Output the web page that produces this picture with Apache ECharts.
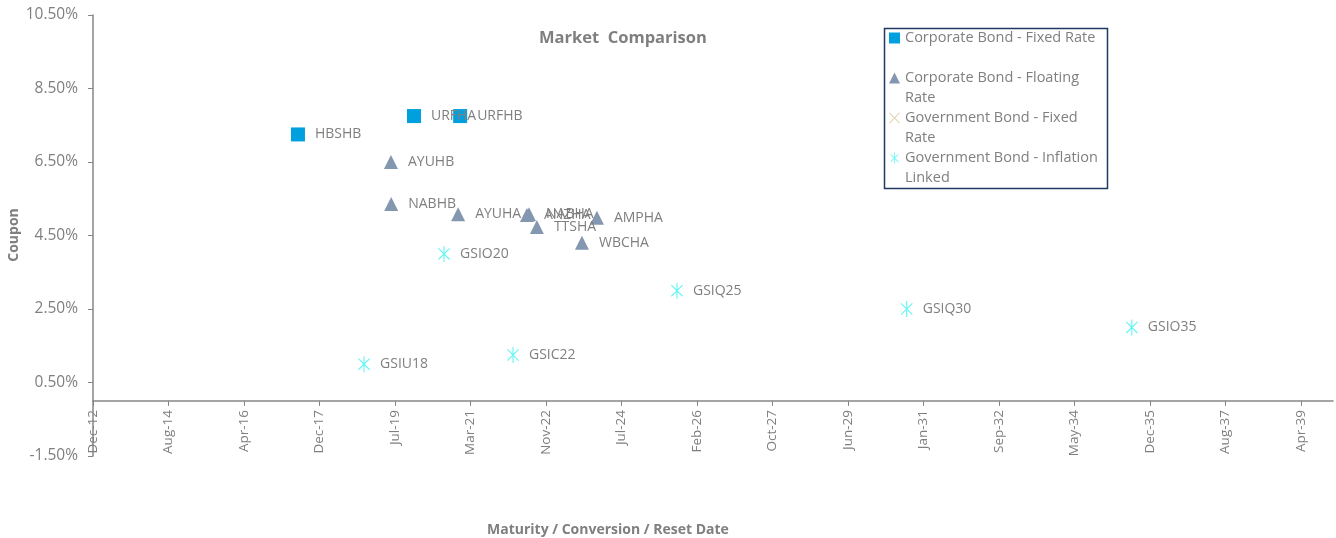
<!DOCTYPE html>
<html lang="en">
<head>
    <meta charset="UTF-8">
    <title>Market Comparison</title>
    <script src="https://cdn.jsdelivr.net/npm/echarts@6/dist/echarts.min.js"></script>
    <style type="text/css">
        html, body { margin: 0; padding: 0; background: #fff; }
        #main { width: 1336px; height: 538px; }
    </style>
</head>
<body>
<div id="main"></div>
<script>
    // corporate bond - fixed rate
    var fixedNames = ['HBSHB', 'URFHA', 'URFHB'];
    var fixedDates = ['2017-06-17', '2019-12-26', '2020-12-27'];
    var fixedCoupons = [7.25, 7.75, 7.75];

    // corporate bond - floating rate
    var floatNames = ['AYUHB', 'NABHB', 'AYUHA', 'ANZHA', 'NABHA', 'TTSHA', 'WBCHA', 'AMPHA'];
    var floatDates = ['2019-06-26', '2019-06-28', '2020-12-11', '2022-06-11', '2022-06-27', '2022-08-29', '2023-08-22', '2023-12-19'];
    var floatCoupons = [6.5, 5.36, 5.08, 5.06, 5.08, 4.73, 4.3, 4.98];

    // government bond - fixed rate (no points shown)
    var govFixedNames = [];
    var govFixedDates = [];
    var govFixedCoupons = [];

    // government bond - inflation linked
    var linkedNames = ['GSIU18', 'GSIO20', 'GSIC22', 'GSIQ25', 'GSIQ30', 'GSIO35'];
    var linkedDates = ['2018-11-24', '2020-08-21', '2022-02-20', '2025-09-15', '2030-09-15', '2035-08-09'];
    var linkedCoupons = [1.0, 4.0, 1.25, 3.0, 2.5, 2.0];

    var seriesNames = ['Corporate Bond - Fixed Rate', 'Corporate Bond - Floating Rate',
        'Government Bond - Fixed Rate', 'Government Bond - Inflation Linked'];
    // leading blank line keeps the icon level with the first text line
    var legendText = {
        'Corporate Bond - Fixed Rate': ' \nCorporate Bond - Fixed Rate\n ',
        'Corporate Bond - Floating Rate': ' \nCorporate Bond - Floating\nRate',
        'Government Bond - Fixed Rate': ' \nGovernment Bond - Fixed\nRate',
        'Government Bond - Inflation Linked': ' \nGovernment Bond - Inflation\nLinked'
    };

    var xStart = '2012-12-31';
    var xStepDays = 600;
    var xTickLabels = ['Dec-12', 'Aug-14', 'Apr-16', 'Dec-17', 'Jul-19', 'Mar-21', 'Nov-22', 'Jul-24', 'Feb-26',
        'Oct-27', 'Jun-29', 'Jan-31', 'Sep-32', 'May-34', 'Dec-35', 'Aug-37', 'Apr-39'];
    var yTicks = [-1.5, 0.5, 2.5, 4.5, 6.5, 8.5, 10.5];

    function toDay(s) {
        return Date.parse(s) / 86400000;
    }

    function points(names, dates, coupons) {
        return names.map(function (n, i) {
            return {name: n, value: [toDay(dates[i]), coupons[i]]};
        });
    }

    var xMin = toDay(xStart);
    var xMax = xMin + 9855;
    var xTickValues = xTickLabels.map(function (l, i) { return xMin + i * xStepDays; });

    var grey = '#7f7f7f';
    var font = '"Open Sans", "Noto Sans", sans-serif';

    var starPath = 'path://M9.3,0L10.7,0L10.7,20L9.3,20Z' +
        'M3.5,2.5L17.5,16.5L16.5,17.5L2.5,3.5Z' +
        'M16.5,2.5L17.5,3.5L3.5,17.5L2.5,16.5Z';
    var crossPath = 'path://M2.5,3.5L3.5,2.5L17.5,16.5L16.5,17.5Z' +
        'M16.5,2.5L17.5,3.5L3.5,17.5L2.5,16.5Z';

    var label = {
        show: true,
        position: 'right',
        distance: 10,
        formatter: '{b}',
        color: grey,
        fontSize: 14,
        fontFamily: font
    };

    var myChart = echarts.init(document.getElementById('main'));
    var option = {
        backgroundColor: '#fff',
        animation: false,
        textStyle: {fontFamily: font},
        grid: {left: 93, right: 3, top: 15, bottom: 82, outerBoundsMode: 'none'},
        graphic: [
            {type: 'text', left: 539, top: 30,
                style: {text: 'Market  Comparison', fill: grey, font: 'bold 16.5px ' + font}},
            {type: 'text', left: 487, top: 523,
                style: {text: 'Maturity / Conversion / Reset Date', fill: grey, font: 'bold 14px ' + font}},
            {type: 'text', x: 14, y: 235, rotation: Math.PI / 2,
                style: {text: 'Coupon', fill: grey, font: 'bold 14px ' + font, align: 'center', verticalAlign: 'middle'}},
            // legend frame
            {type: 'rect', left: 882, top: 26, z: 10,
                shape: {width: 223, height: 160},
                style: {fill: 'none', stroke: '#1f3864', lineWidth: 1.5}}
        ],
        legend: {
            orient: 'vertical',
            left: 889,
            top: 8,
            itemGap: -20,
            itemWidth: 11,
            itemHeight: 11,
            padding: 0,
            data: seriesNames,
            formatter: function (name) { return legendText[name]; },
            textStyle: {color: grey, fontSize: 14.5, lineHeight: 20, fontFamily: font}
        },
        xAxis: {
            type: 'value',
            min: xMin,
            max: xMax,
            splitLine: {show: false},
            axisLine: {onZero: true, lineStyle: {color: '#868686', width: 1.5}},
            axisTick: {show: true, length: 5, customValues: xTickValues, lineStyle: {color: '#868686'}},
            axisLabel: {
                customValues: xTickValues,
                rotate: 90,
                margin: -46,
                color: grey,
                fontSize: 13.5,
                fontFamily: font,
                formatter: function (v) {
                    return xTickLabels[Math.round((v - xMin) / xStepDays)];
                }
            }
        },
        yAxis: {
            type: 'value',
            min: -1.5,
            max: 10.5,
            splitLine: {show: false},
            axisLine: {show: true, lineStyle: {color: '#868686', width: 1.5}},
            axisTick: {show: true, length: 5, customValues: yTicks, lineStyle: {color: '#868686'}},
            axisLabel: {
                customValues: yTicks,
                margin: 15,
                color: grey,
                fontSize: 15.5,
                fontFamily: font,
                formatter: function (v) { return v.toFixed(2) + '%'; }
            }
        },
        series: [
            {
                name: seriesNames[0],
                type: 'scatter',
                symbol: 'rect',
                symbolSize: 14,
                itemStyle: {color: '#00a0df', opacity: 1},
                label: label,
                data: points(fixedNames, fixedDates, fixedCoupons)
            },
            {
                name: seriesNames[1],
                type: 'scatter',
                symbol: 'triangle',
                symbolSize: 14,
                itemStyle: {color: '#8497b0', opacity: 1},
                label: label,
                data: points(floatNames, floatDates, floatCoupons)
            },
            {
                name: seriesNames[2],
                type: 'scatter',
                symbol: crossPath,
                symbolSize: 13,
                itemStyle: {color: '#e3d5b3', opacity: 1},
                label: label,
                data: points(govFixedNames, govFixedDates, govFixedCoupons)
            },
            {
                name: seriesNames[3],
                type: 'scatter',
                symbol: starPath,
                symbolSize: 16,
                symbolKeepAspect: true,
                itemStyle: {color: '#66f5f5', opacity: 1},
                label: label,
                data: points(linkedNames, linkedDates, linkedCoupons)
            }
        ]
    };
    myChart.setOption(option);
</script>
</body>
</html>
